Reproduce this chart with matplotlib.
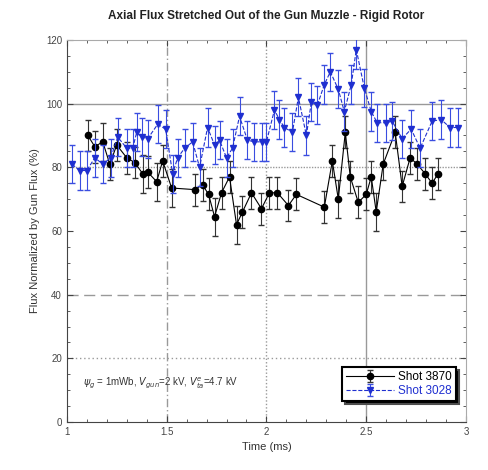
import matplotlib
matplotlib.use('Agg')
import matplotlib.pyplot as plt
from matplotlib.ticker import MultipleLocator

plt.rcParams['font.family'] = ['Liberation Sans', 'DejaVu Sans']

# Shot 3870 (black circles)
t_3870 = [1.105, 1.14, 1.18, 1.215, 1.25, 1.30, 1.34, 1.38, 1.405, 1.45, 1.48,
          1.525, 1.64, 1.68, 1.71, 1.74, 1.775, 1.815, 1.85, 1.88, 1.925, 1.975,
          2.015, 2.055, 2.11, 2.15, 2.29, 2.33, 2.36, 2.395, 2.42, 2.46, 2.50,
          2.525, 2.55, 2.585, 2.645, 2.68, 2.72, 2.755, 2.795, 2.83, 2.86]
flux_3870 = [90, 86.5, 88, 81, 87, 83, 81.5, 78, 78.5, 75.5, 82,
             73.5, 73, 74.5, 71.5, 64.5, 72, 77, 62, 66, 72, 67,
             72, 72, 68, 71.5, 67.5, 82, 70, 91, 77, 69, 71.5,
             77, 66, 81, 91, 74, 83, 81, 78, 75, 78]
err_3870 = [5, 5, 6, 5, 5, 5, 5, 6, 5, 6, 5,
            6, 5, 5, 5, 6, 5, 5, 6, 5, 5, 5,
            5, 5, 5, 5, 5, 5, 6, 5, 5, 5, 5,
            5, 6, 5, 5, 5, 5, 5, 5, 5, 5]

# Shot 3028 (blue down triangles)
t_3028 = [1.025, 1.065, 1.10, 1.14, 1.18, 1.22, 1.255, 1.30, 1.33, 1.35, 1.375,
          1.405, 1.455, 1.495, 1.53, 1.555, 1.59, 1.63, 1.665, 1.705, 1.74, 1.765,
          1.80, 1.83, 1.865, 1.905, 1.94, 1.98, 2.0, 2.04, 2.065, 2.09, 2.13,
          2.16, 2.20, 2.225, 2.255, 2.29, 2.32, 2.36, 2.39, 2.425, 2.45, 2.49,
          2.525, 2.555, 2.60, 2.63, 2.68, 2.725, 2.77, 2.83, 2.875, 2.92, 2.96]
flux_3028 = [81, 79, 79, 83, 81, 83, 89.5, 86, 86, 91, 89.5,
             89, 93.5, 92, 78, 83, 86, 88, 80, 92.5, 87, 88.5,
             83, 86, 96, 88.5, 88, 88, 88, 98, 95, 92.5, 91,
             102, 90, 100.5, 99.5, 106, 110, 104.5, 97.5, 106, 117, 105,
             97.5, 94, 94, 94.5, 89, 92, 86, 94.5, 95, 92.5, 92.5]
err_3028 = [6, 6, 6, 6, 6, 6, 6, 6, 6, 6, 6,
            6, 6, 6, 6, 6, 6, 6, 6, 6, 6, 6,
            6, 6, 6, 6, 6, 6, 6, 6, 6, 6, 6,
            6, 6, 6, 6, 6, 6, 6, 6, 6, 6, 6,
            6, 6, 6, 6, 6, 6, 6, 6, 6, 6, 6]

fig = plt.figure(figsize=(4.88, 4.70), dpi=100)
ax = fig.add_axes([0.137, 0.102, 0.818, 0.813])

# grid lines in mixed styles like the original
grid_col = '#999999'
ax.axhline(100, color=grid_col, lw=1.0, ls='-', zorder=0)
ax.axhline(80, color=grid_col, lw=1.0, ls=(0, (1, 1)), zorder=0)
ax.axhline(40, color=grid_col, lw=1.0, ls=(0, (8, 4)), zorder=0)
ax.axhline(20, color=grid_col, lw=1.0, ls=(0, (1, 2)), zorder=0)
ax.axvline(1.5, color=grid_col, lw=1.0, ls=(0, (6, 2, 1, 2)), zorder=0)
ax.axvline(2.0, color=grid_col, lw=1.0, ls=(0, (1, 1.5)), zorder=0)
ax.axvline(2.5, color=grid_col, lw=1.0, ls='-', zorder=0)

ax.errorbar(t_3870, flux_3870, yerr=err_3870, color='black', ecolor='#333333',
            lw=0.8, elinewidth=0.8, capsize=2.5, marker='o', markersize=4.5,
            label='Shot 3870', zorder=3)
ax.errorbar(t_3028, flux_3028, yerr=err_3028, color='#1f2fd0', ecolor='#3a4de0',
            lw=0.8, ls='--', elinewidth=0.8, capsize=2.5, marker='v', markersize=5,
            label='Shot 3028', zorder=4)

ax.set_xlim(1, 3)
ax.set_ylim(0, 120)
ax.set_xticks([1, 1.5, 2, 2.5, 3])
ax.set_xticklabels(['1', '1.5', '2', '2.5', '3'])
ax.set_yticks([0, 20, 40, 60, 80, 100, 120])
ax.xaxis.set_minor_locator(MultipleLocator(0.1))
ax.yaxis.set_minor_locator(MultipleLocator(5))
ax.tick_params(which='both', direction='in', top=True, right=True,
               labelsize=7, labelcolor='#444444', color='#444444')
ax.tick_params(which='major', length=4)
ax.tick_params(which='minor', length=2)
for side in ['top', 'right']:
    ax.spines[side].set_color('#aaaaaa')
for side in ['left', 'bottom']:
    ax.spines[side].set_color('#444444')

ax.set_xlabel('Time (ms)', fontsize=8, color='#333333')
ax.set_ylabel('Flux Normalized by Gun Flux (%)', fontsize=8, color='#333333')
fig.text(0.545, 0.965, 'Axial Flux Stretched Out of the Gun Muzzle - Rigid Rotor',
         ha='center', va='center', fontsize=8.5, fontweight='bold', color='#222222')

ax.text(1.08, 12, r'$\psi_g$ = 1mWb, $V_{gun}$=2 kV, $V^e_{ta}$=4.7 kV',
        fontsize=7, color='#333333', va='center')

leg = ax.legend(loc='lower right', bbox_to_anchor=(0.99, 0.04), fontsize=8.5,
                frameon=True, fancybox=False, edgecolor='black',
                shadow={'facecolor': 'black', 'alpha': 1.0},
                handlelength=4.0, borderpad=0.35, labelspacing=0.15,
                handletextpad=0.4)
leg.get_frame().set_linewidth(1.5)
leg.get_texts()[1].set_color('#1f2fd0')

fig.savefig('out.png', dpi=100)
